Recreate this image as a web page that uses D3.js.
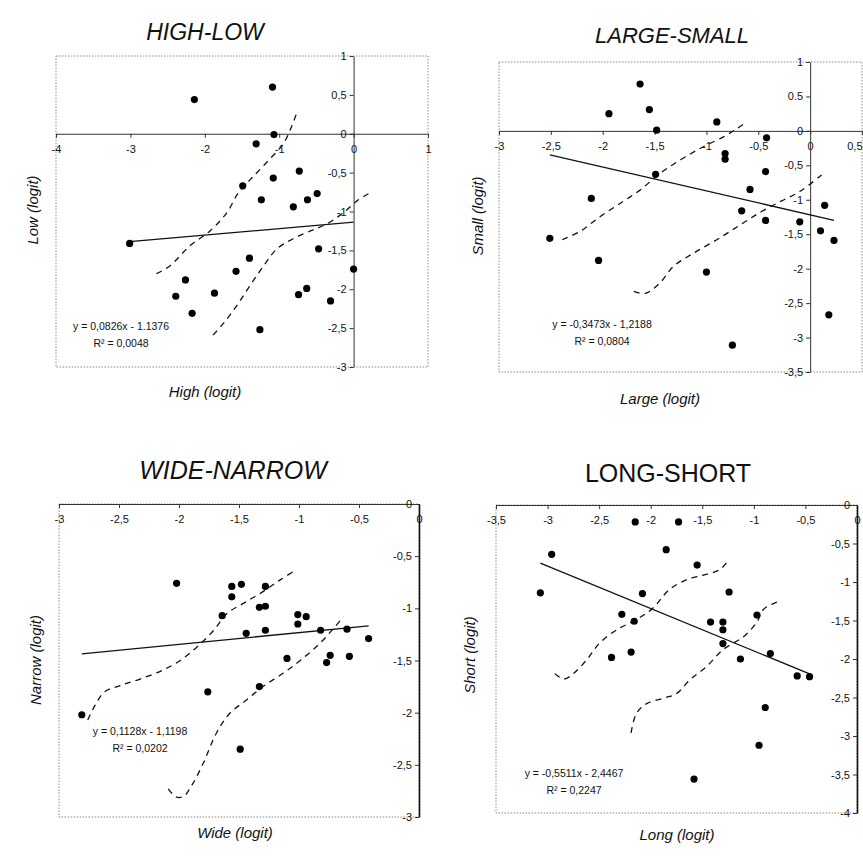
<!DOCTYPE html>
<html><head><meta charset="utf-8">
<script src="https://cdn.jsdelivr.net/npm/d3@7"></script>
<style>
body{margin:0;background:#fff}
svg text{font-family:"Liberation Sans",Arial,sans-serif;fill:#111}
</style></head><body>
<svg id="c" width="863" height="858"></svg>
<script>
// ---------- HIGH-LOW ----------
const hlHigh = [-2.14,-1.09,-1.07,-1.31,-0.73,-1.08,-1.49,-1.24,-0.81,-0.62,-0.49,-3.01,-0.47,0,-1.40,-1.58,-2.26,-2.39,-1.87,-0.74,-0.63,-0.31,-2.17,-1.26];
const hlLow  = [0.44,0.60,-0.01,-0.13,-0.48,-0.57,-0.67,-0.85,-0.94,-0.85,-0.77,-1.41,-1.48,-1.74,-1.60,-1.77,-1.88,-2.09,-2.05,-2.07,-1.99,-2.15,-2.31,-2.52];
const hlUpper = [[-2.65,-1.80],[-2.47,-1.70],[-2.20,-1.44],[-1.93,-1.25],[-1.70,-1.01],[-1.55,-0.76],[-1.39,-0.59],[-1.17,-0.37],[-0.94,-0.12],[-0.83,0.10],[-0.76,0.28]];
const hlLower = [[-1.89,-2.59],[-1.75,-2.44],[-1.57,-2.21],[-1.39,-1.95],[-1.21,-1.70],[-1.03,-1.48],[-0.81,-1.35],[-0.58,-1.25],[-0.36,-1.16],[-0.13,-1.01],[0.05,-0.86],[0.22,-0.76]];
const hlXTicks = [-4,-3,-2,-1,0,1];
const hlXLabels = ["-4","-3","-2","-1","0","1"];
const hlYTicks = [1,0.5,0,-0.5,-1,-1.5,-2,-2.5,-3];
const hlYLabels = ["1","0,5","0","-0,5","-1","-1,5","-2","-2,5","-3"];

// ---------- LARGE-SMALL ----------
const lsLarge = [-1.64,-1.94,-1.55,-1.48,-0.90,-0.42,-0.82,-0.82,-1.49,-0.43,-0.58,-2.11,-0.66,-0.43,-2.51,-2.04,-1.00,-0.75,0.14,-0.10,0.10,0.23,0.18];
const lsSmall = [0.68,0.25,0.31,0.01,0.13,-0.10,-0.33,-0.41,-0.63,-0.59,-0.85,-0.98,-1.16,-1.30,-1.56,-1.88,-2.05,-3.11,-1.08,-1.32,-1.45,-1.59,-2.67];
const lsUpper = [[-2.39,-1.58],[-2.22,-1.46],[-2.03,-1.25],[-1.83,-1.05],[-1.64,-0.86],[-1.45,-0.62],[-1.25,-0.42],[-1.03,-0.23],[-0.84,-0.09],[-0.71,0.03],[-0.61,0.13]];
const lsLower = [[-1.70,-2.33],[-1.59,-2.36],[-1.45,-2.21],[-1.32,-1.97],[-1.13,-1.78],[-0.90,-1.58],[-0.68,-1.37],[-0.48,-1.18],[-0.28,-1.02],[-0.10,-0.88],[0.11,-0.64]];
const lsXTicks = [-3,-2.5,-2,-1.5,-1,-0.5,0,0.5];
const lsXLabels = ["-3","-2,5","-2","-1,5","-1","-0,5","0","0,5"];
const lsYTicks = [1,0.5,0,-0.5,-1,-1.5,-2,-2.5,-3,-3.5];
const lsYLabels = ["1","0.5","0","-0,5","-1","-1,5","-2","-2,5","-3","-3,5"];

// ---------- WIDE-NARROW ----------
const wnWide   = [-2.02,-1.56,-1.48,-1.56,-1.28,-1.33,-1.28,-1.64,-1.01,-0.94,-1.01,-1.44,-1.28,-0.82,-0.60,-0.42,-1.10,-0.74,-0.77,-0.58,-1.33,-1.76,-2.81,-1.49];
const wnNarrow = [-0.76,-0.79,-0.77,-0.89,-0.79,-0.99,-0.98,-1.07,-1.06,-1.08,-1.15,-1.24,-1.21,-1.21,-1.20,-1.29,-1.48,-1.45,-1.52,-1.46,-1.75,-1.80,-2.02,-2.35];
const wnUpper = [[-2.76,-2.07],[-2.70,-1.93],[-2.62,-1.80],[-2.49,-1.74],[-2.33,-1.68],[-2.13,-1.59],[-1.99,-1.50],[-1.85,-1.37],[-1.71,-1.21],[-1.60,-1.05],[-1.46,-0.95],[-1.30,-0.84],[-1.16,-0.73],[-1.05,-0.65]];
const wnLower = [[-2.09,-2.73],[-2.02,-2.81],[-1.96,-2.80],[-1.89,-2.69],[-1.80,-2.49],[-1.69,-2.20],[-1.58,-2.01],[-1.44,-1.88],[-1.30,-1.75],[-1.13,-1.62],[-0.99,-1.50],[-0.83,-1.34],[-0.71,-1.19],[-0.63,-1.08]];
const wnXTicks = [-3,-2.5,-2,-1.5,-1,-0.5,0];
const wnXLabels = ["-3","-2,5","-2","-1,5","-1","-0,5","0"];
const wnYTicks = [0,-0.5,-1,-1.5,-2,-2.5,-3];
const wnYLabels = ["0","-0,5","-1","-1,5","-2","-2,5","-3"];

// ---------- LONG-SHORT ----------
const lgLong  = [-3.07,-2.96,-1.85,-1.55,-2.08,-1.24,-2.28,-2.16,-1.42,-1.30,-1.30,-0.97,-1.30,-2.38,-2.19,-1.13,-0.84,-0.58,-0.46,-0.89,-0.95,-1.58,-2.15,-1.73];
const lgShort = [-1.14,-0.64,-0.58,-0.78,-1.15,-1.13,-1.42,-1.51,-1.52,-1.52,-1.62,-1.43,-1.80,-1.98,-1.91,-2.00,-1.93,-2.22,-2.23,-2.63,-3.12,-3.56,-0.22,-0.22];
const lgUpper = [[-2.93,-2.19],[-2.84,-2.26],[-2.75,-2.19],[-2.62,-2.01],[-2.50,-1.80],[-2.33,-1.62],[-2.14,-1.49],[-1.98,-1.34],[-1.82,-1.10],[-1.65,-0.97],[-1.49,-0.91],[-1.33,-0.84],[-1.26,-0.74]];
const lgLower = [[-2.19,-2.96],[-2.14,-2.71],[-2.04,-2.58],[-1.88,-2.51],[-1.75,-2.45],[-1.62,-2.27],[-1.46,-2.10],[-1.30,-1.88],[-1.10,-1.71],[-0.97,-1.52],[-0.91,-1.36],[-0.81,-1.28],[-0.73,-1.24]];
const lgXTicks = [-3.5,-3,-2.5,-2,-1.5,-1,-0.5,0];
const lgXLabels = ["-3,5","-3","-2,5","-2","-1,5","-1","-0,5","0"];
const lgYTicks = [0,-0.5,-1,-1.5,-2,-2.5,-3,-3.5,-4];
const lgYLabels = ["0","-0,5","-1","-1,5","-2","-2,5","-3","-3,5","-4"];

// regression results
const titles = ["HIGH-LOW","LARGE-SMALL","WIDE-NARROW","LONG-SHORT"];
const xTitles = ["High (logit)","Large (logit)","Wide (logit)","Long (logit)"];
const yTitles = ["Low (logit)","Small (logit)","Narrow (logit)","Short (logit)"];
const slopes = [0.0826,-0.3473,0.1128,-0.5511];
const intercepts = [-1.1376,-1.2188,-1.1198,-2.4467];
const eqLines = ["y = 0,0826x - 1.1376","y = -0,3473x - 1,2188","y = 0,1128x - 1,1198","y = -0,5511x - 2,4467"];
const r2Lines = ["R² = 0,0048","R² = 0,0804","R² = 0,0202","R² = 0,2247"];

// ---------- layout ----------
const panels = [
  {xs:hlHigh, ys:hlLow, up:hlUpper, lo:hlLower, xt:hlXTicks, xl:hlXLabels, yt:hlYTicks, yl:hlYLabels,
   xd:[-4,1], xr:[56,428], yd:[1,-3], yr:[56,367],
   title:{x:205,y:40,size:23,italic:true}, xT:{x:205,y:397}, yT:{x:33,y:210}, eq:{x:121,y:330}, yAxisBold:false},
  {xs:lsLarge, ys:lsSmall, up:lsUpper, lo:lsLower, xt:lsXTicks, xl:lsXLabels, yt:lsYTicks, yl:lsYLabels,
   xd:[-3,0.5], xr:[499,862], yd:[1,-3.5], yr:[62,372],
   title:{x:672,y:43,size:22,italic:true}, xT:{x:660,y:404}, yT:{x:478,y:216}, eq:{x:602,y:328}, yAxisBold:false},
  {xs:wnWide, ys:wnNarrow, up:wnUpper, lo:wnLower, xt:wnXTicks, xl:wnXLabels, yt:wnYTicks, yl:wnYLabels,
   xd:[-3,0], xr:[59,419], yd:[0,-3], yr:[504,817],
   title:{x:233,y:479,size:25,italic:true}, xT:{x:235,y:838}, yT:{x:36,y:660}, eq:{x:140,y:735}, yAxisBold:true},
  {xs:lgLong, ys:lgShort, up:lgUpper, lo:lgLower, xt:lgXTicks, xl:lgXLabels, yt:lgYTicks, yl:lgYLabels,
   xd:[-3.5,0], xr:[496,857], yd:[0,-4], yr:[505,813],
   title:{x:668,y:482,size:25,italic:false}, xT:{x:677,y:840}, yT:{x:470,y:655}, eq:{x:574,y:777}, yAxisBold:true}
];

const svg = d3.select("#c");
const W = 863;

panels.forEach((p,i)=>{
  const x = d3.scaleLinear().domain(p.xd).range(p.xr);
  const y = d3.scaleLinear().domain(p.yd).range(p.yr);
  const g = svg.append("g");

  // plot area border (dotted)
  g.append("rect")
    .attr("x",p.xr[0]).attr("y",p.yr[0])
    .attr("width",p.xr[1]-p.xr[0]).attr("height",p.yr[1]-p.yr[0])
    .attr("fill","none").attr("stroke","#8a8a8a").attr("stroke-width",1)
    .attr("stroke-dasharray","1.5,1.5");

  // x axis at y=0
  const xAxis = d3.axisBottom(x).tickValues(p.xt).tickFormat((d,k)=>p.xl[k])
    .tickSize(4).tickSizeOuter(0).tickPadding(7);
  const gx = g.append("g").attr("transform",`translate(0,${y(0)})`).call(xAxis);
  gx.select(".domain").attr("stroke","#333");
  gx.selectAll(".tick line").attr("stroke","#333");
  gx.selectAll("text").attr("font-size",11).attr("fill","#111")
    .attr("font-family",'"Liberation Sans",Arial,sans-serif');
  // keep labels inside the page edge
  gx.selectAll(".tick").each(function(d){
    const t = d3.select(this).select("text");
    const w = this.querySelector("text").getComputedTextLength();
    if (x(d) + w/2 > W - 1) t.attr("text-anchor","end").attr("x", (W - 1) - x(d));
  });

  // y axis at x=0
  const yAxis = d3.axisLeft(y).tickValues(p.yt).tickFormat((d,k)=>p.yl[k])
    .tickSize(4).tickSizeOuter(0).tickPadding(3);
  const gy = g.append("g").attr("transform",`translate(${x(0)},0)`).call(yAxis);
  gy.select(".domain").attr("stroke", p.yAxisBold ? "#111" : "#333").attr("stroke-width", p.yAxisBold ? 1.6 : 1);
  gy.selectAll(".tick line").attr("stroke","#333");
  gy.selectAll("text").attr("font-size",11).attr("fill","#111")
    .attr("font-family",'"Liberation Sans",Arial,sans-serif');

  // dashed bands
  const line = d3.line().x(d=>x(d[0])).y(d=>y(d[1])).curve(d3.curveCatmullRom.alpha(0.5));
  [p.up,p.lo].forEach(b=>{
    g.append("path").attr("d",line(b)).attr("fill","none")
      .attr("stroke","#111").attr("stroke-width",1.3).attr("stroke-dasharray","6,5");
  });

  // regression line
  const x0 = d3.min(p.xs), x1 = d3.max(p.xs);
  g.append("line")
    .attr("x1",x(x0)).attr("y1",y(slopes[i]*x0+intercepts[i]))
    .attr("x2",x(x1)).attr("y2",y(slopes[i]*x1+intercepts[i]))
    .attr("stroke","#111").attr("stroke-width",1.3);

  // points
  g.selectAll("circle.pt").data(p.xs.map((v,k)=>[v,p.ys[k]])).join("circle")
    .attr("class","pt").attr("cx",d=>x(d[0])).attr("cy",d=>y(d[1])).attr("r",3.6).attr("fill","#000");

  // equation
  g.append("text").attr("x",p.eq.x).attr("y",p.eq.y).attr("text-anchor","middle")
    .attr("font-size",10.5).text(eqLines[i]);
  g.append("text").attr("x",p.eq.x).attr("y",p.eq.y+17).attr("text-anchor","middle")
    .attr("font-size",10.5).text(r2Lines[i]);

  // titles
  g.append("text").attr("x",p.title.x).attr("y",p.title.y).attr("text-anchor","middle")
    .attr("font-size",p.title.size).attr("font-style",p.title.italic?"italic":"normal").text(titles[i]);
  g.append("text").attr("x",p.xT.x).attr("y",p.xT.y).attr("text-anchor","middle")
    .attr("font-size",15).attr("font-style","italic").text(xTitles[i]);
  g.append("text").attr("transform",`translate(${p.yT.x},${p.yT.y}) rotate(-90)`)
    .attr("text-anchor","middle").attr("dy","0.35em")
    .attr("font-size",15).attr("font-style","italic").text(yTitles[i]);
});
</script>
</body></html>
